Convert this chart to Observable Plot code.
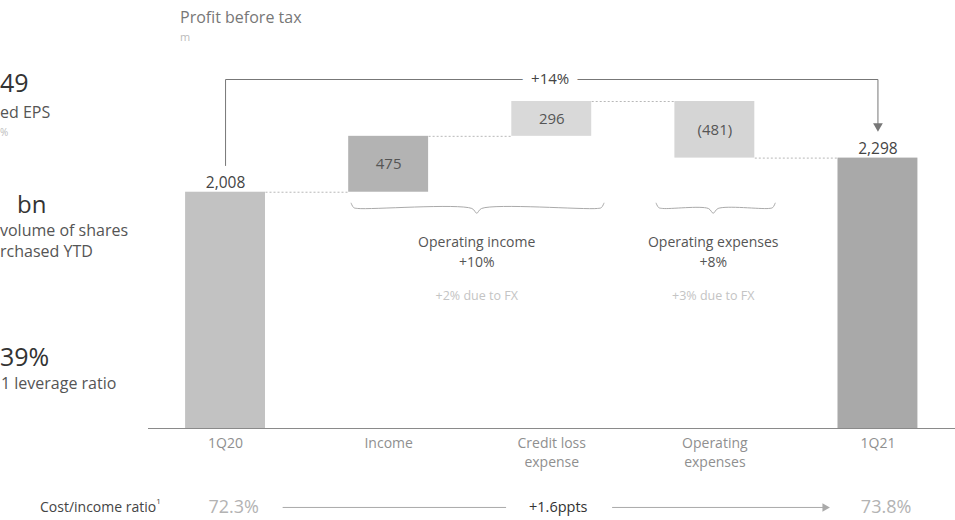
<!DOCTYPE html>
<html>
<head>
<meta charset="utf-8">
<script src="https://cdn.jsdelivr.net/npm/d3@7"></script>
<script src="https://cdn.jsdelivr.net/npm/@observablehq/plot@0.6"></script>
<style>
  html, body { margin: 0; padding: 0; background: #fff; }
  #wrap { position: relative; width: 955px; height: 520px; overflow: hidden; font-family: "Open Sans", "Noto Sans", sans-serif; }
  #wrap svg { position: absolute; left: 0; top: 0; }
  .ov { position: absolute; white-space: nowrap; line-height: 1; }
</style>
</head>
<body>
<div id="wrap">
  <div class="ov" style="left:180px;top:9px;font-size:16px;color:#777;">Profit before tax</div>
  <div class="ov" style="left:180px;top:31px;font-size:11px;color:#bbb;">m</div>

  <div class="ov" style="left:0px;top:70px;font-size:25px;color:#333;">49</div>
  <div class="ov" style="left:0px;top:104px;font-size:16px;color:#555;">ed EPS</div>
  <div class="ov" style="left:0px;top:127px;font-size:10px;color:#bbb;">%</div>

  <div class="ov" style="left:17px;top:192px;font-size:24px;color:#333;">bn</div>
  <div class="ov" style="left:0px;top:222px;font-size:16px;color:#555;">volume of shares</div>
  <div class="ov" style="left:0px;top:243px;font-size:16px;color:#555;">rchased YTD</div>

  <div class="ov" style="left:0px;top:344px;font-size:25px;color:#333;">39%</div>
  <div class="ov" style="left:1px;top:375px;font-size:16px;color:#555;">1 leverage ratio</div>

  <div class="ov" style="left:40px;top:500px;font-size:14px;color:#444;">Cost/income ratio<sup style="font-size:8px;vertical-align:top;position:relative;top:-3px;">1</sup></div>
</div>
<script>
// ---- data ----
const categories = ["1Q20", "Income", "Credit loss expense", "Operating expenses", "1Q21"];
const tickLabels = ["1Q20", "Income", "Credit loss\nexpense", "Operating\nexpenses", "1Q21"];
const values = [2008, 475, 296, -481, 2298];
const valueLabels = ["2,008", "475", "296", "(481)", "2,298"];
const kinds = ["total", "delta", "delta", "delta", "total"];
const barColors = ["#c2c2c2", "#b3b3b3", "#d9d9d9", "#d5d5d5", "#a9a9a9"];

const totalChange = "+14%";
const groupLabels = ["Operating income", "Operating expenses"];
const groupChanges = ["+10%", "+8%"];
const groupFx = ["+2% due to FX", "+3% due to FX"];
const costIncomeStart = "72.3%";
const costIncomeEnd = "73.8%";
const costIncomeChange = "+1.6ppts";

// ---- derived waterfall table ----
let running = 0;
const bars = categories.map((c, i) => {
  let y1, y2;
  if (kinds[i] === "total") { y1 = 0; y2 = values[i]; running = values[i]; }
  else { y1 = running; y2 = running + values[i]; running = y2; }
  return { i, c, y1, y2, top: Math.max(y1, y2), end: y2, label: valueLabels[i], kind: kinds[i], color: barColors[i] };
});
const hw = 0.245;
const connectors = bars.slice(0, -1).map((b) => ({ x1: b.i + hw, x2: b.i + 1 - hw, y: b.end }));

// annotation levels (value units)
const bracketLevel = 2966;
const braceLevel = 1870;
const braces = [
  { a: 0.77, b: 2.32, m: 1.54 },
  { a: 2.64, b: 3.37, m: 2.99 }
];
const braceLines = [];
braces.forEach((br, g) => {
  const pts = [
    [br.a, braceLevel + 45], [br.a + 0.015, braceLevel + 8], [br.a + 0.04, braceLevel],
    [br.m - 0.03, braceLevel], [br.m, braceLevel - 40], [br.m + 0.03, braceLevel],
    [br.b - 0.04, braceLevel], [br.b - 0.015, braceLevel + 8], [br.b, braceLevel + 45]
  ];
  pts.forEach(p => braceLines.push({ g, x: p[0], y: p[1] }));
});
const groupText = braces.map((br, g) => ({ x: br.m, name: groupLabels[g], chg: groupChanges[g], fx: groupFx[g] }));
const rowY = -671;

const chart = Plot.plot({
  width: 955,
  height: 520,
  marginLeft: 148,
  marginRight: 0,
  marginTop: 75,
  marginBottom: 92,
  style: { fontFamily: "'Open Sans', 'Noto Sans', sans-serif", background: "transparent" },
  x: { type: "linear", domain: [-0.5, 4.5], range: [143.5, 959], axis: null },
  y: { domain: [0, 3000], axis: null },
  marks: [
    // bars
    Plot.rectY(bars, { x1: d => d.i - hw, x2: d => d.i + hw, y1: "y1", y2: "y2", fill: d => d.color }),
    // connectors
    Plot.link(connectors, { x1: "x1", x2: "x2", y1: "y", y2: "y", stroke: "#b8b8b8", strokeWidth: 1, strokeDasharray: "2,2" }),
    // baseline axis
    Plot.ruleY([0], { stroke: "#8a8a8a", strokeWidth: 1.2 }),
    // total labels
    Plot.text(bars.filter(d => d.kind === "total"), { x: "i", y: "top", text: "label", lineAnchor: "bottom", dy: -4, fontSize: 15.5, fill: "#444" }),
    // delta labels
    Plot.text(bars.filter(d => d.kind === "delta"), { x: "i", y: d => (d.y1 + d.y2) / 2, text: "label", fontSize: 15, fill: "#555" }),
    // x tick labels
    Plot.text(categories, { x: (d, i) => i, text: (d, i) => tickLabels[i], frameAnchor: "bottom", lineAnchor: "top", dy: 6, fontSize: 14, lineHeight: 1.35, fill: "#8f8f8f" }),
    // +14% bracket
    Plot.line([{ x: 0, y: 2235 }, { x: 0, y: bracketLevel }, { x: 4, y: bracketLevel }, { x: 4, y: 2590 }], { x: "x", y: "y", stroke: "#777", strokeWidth: 1 }),
    Plot.dot([{ x: 4, y: 2570 }], { x: "x", y: "y", symbol: "triangle", rotate: 180, r: 3.6, fill: "#777", stroke: "none" }),
    Plot.text([totalChange], { x: 1.99, y: bracketLevel, text: d => d, fontSize: 15, fill: "#444", stroke: "white", strokeWidth: 18 }),
    // braces
    Plot.line(braceLines, { x: "x", y: "y", z: "g", stroke: "#aaa", strokeWidth: 1, curve: "catmull-rom" }),
    Plot.text(groupText, { x: "x", y: 1581, text: "name", fontSize: 14, fill: "#555" }),
    Plot.text(groupText, { x: "x", y: 1411, text: "chg", fontSize: 14, fill: "#555" }),
    Plot.text(groupText, { x: "x", y: 1130, text: "fx", fontSize: 12.5, fill: "#c4c4c4" }),
    // cost/income row
    Plot.text([costIncomeStart], { x: 0.05, y: rowY, text: d => d, fontSize: 18, fill: "#b3b3b3" }),
    Plot.text([costIncomeEnd], { x: 4.05, y: rowY, text: d => d, fontSize: 18, fill: "#b3b3b3" }),
    Plot.text([costIncomeChange], { x: 2.04, y: rowY, text: d => d, fontSize: 14.5, fill: "#333" }),
    Plot.link([{ a: 0.35, b: 1.72 }], { x1: "a", x2: "b", y1: rowY, y2: rowY, stroke: "#aaa", strokeWidth: 1 }),
    Plot.link([{ a: 2.37, b: 3.67 }], { x1: "a", x2: "b", y1: rowY, y2: rowY, stroke: "#aaa", strokeWidth: 1 }),
    Plot.dot([{ x: 3.675, y: rowY }], { x: "x", y: "y", symbol: "triangle", rotate: 90, r: 3.2, fill: "#aaa", stroke: "none" })
  ]
});
document.getElementById("wrap").prepend(chart);
</script>
</body>
</html>
